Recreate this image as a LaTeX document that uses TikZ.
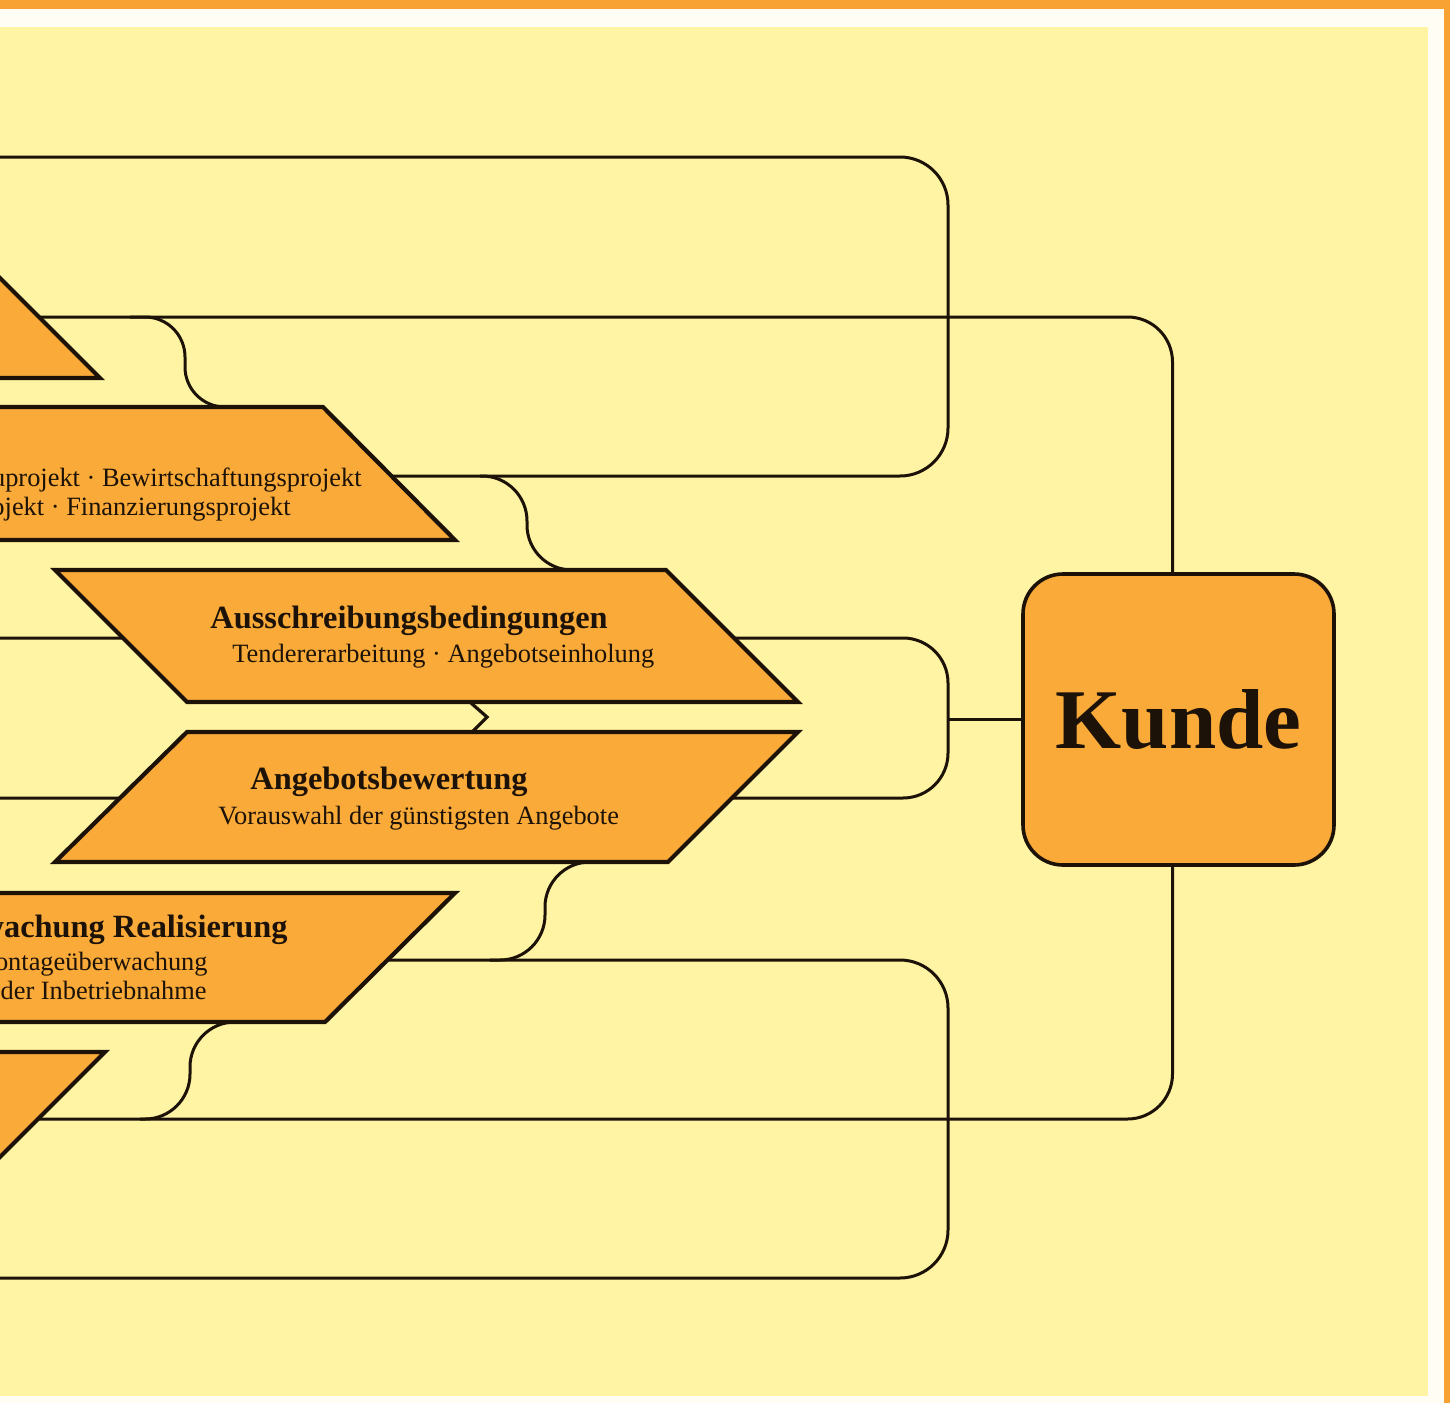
\documentclass[tikz,border=0pt]{standalone}
\usepackage{fontspec}
\setmainfont{Liberation Serif}
\definecolor{bgyellow}{HTML}{FFF4A3}
\definecolor{shapeorange}{HTML}{F9AA38}
\definecolor{barorange}{HTML}{F7A233}
\definecolor{paperwhite}{HTML}{FFFDF4}
\definecolor{inkc}{HTML}{1C1208}
\tikzset{
  conn/.style={line width=1.5pt, draw=inkc, rounded corners=22.5pt},
  phase/.style={draw=inkc, line width=2.1pt, fill=shapeorange, line join=miter},
  titletext/.style={font=\fontsize{16.2}{18}\selectfont\bfseries, inner sep=0pt, text=inkc},
  subtext/.style={font=\fontsize{13.2}{15}\selectfont, inner sep=0pt, text=inkc},
  kundebox/.style={draw=inkc, line width=1.8pt, fill=shapeorange, rounded corners=20pt,
    minimum width=155.5pt, minimum height=145.5pt, inner sep=0pt,
    font=\fontsize{42.5}{44}\selectfont\bfseries, text=inkc}
}
\begin{document}
\begin{tikzpicture}[x=0.5pt,y=-0.5pt]
\useasboundingbox (0,0) rectangle (1450,1403);
\fill[paperwhite] (0,0) rectangle (1450,1403);
\fill[barorange] (0,0) rectangle (1450,9);
\fill[barorange] (1444,0) rectangle (1450,1403);
\fill[bgyellow] (0,27) rectangle (1428,1396);
\begin{scope}
\clip (0,27) rectangle (1428,1396);
% customer box
\node[kundebox] (kunde) at (1178.5,719.5) {Kunde};
% named connector ends
\coordinate (topL) at (0,317);
\coordinate (botL) at (0,1119);
\coordinate (jL) at (948,718);
% connectors
\draw[conn] ([xshift=-3pt]kunde.north) |- (topL);
\draw[conn] ([xshift=-3pt]kunde.south) |- (botL);
\draw[line width=1.5pt, draw=inkc] (kunde.west) -- (jL |- kunde.west);
\draw[conn, rounded corners=24pt] (0,157) -- (948,157) -- (948,476) -- (380,476);
\draw[conn] (0,638) -- (948,638) -- (948,798) -- (0,798);
\draw[conn, rounded corners=24pt] (380,960) -- (948,960) -- (948,1278) -- (0,1278);
\draw[conn, rounded corners=20pt] (130,317) -- (185,317) -- (185,407) -- (240,407);
\draw[conn] (480,476) -- (527,476) -- (527,570) -- (580,570);
\draw[conn] (600,862) -- (545,862) -- (545,960) -- (490,960);
\draw[conn] (240,1022) -- (190,1022) -- (190,1119) -- (140,1119);
% phase shapes
\draw[phase] (-200,246) -- (-32,246) -- (100,378) -- (-200,378) -- cycle;
\draw[phase] (-200,407) -- (323,407) -- (455,540) -- (-200,540) -- cycle;
\draw[phase] (55,570) -- (666,570) -- (798,702) -- (187,702) -- cycle;
\draw[phase] (187,732) -- (798,732) -- (668,862) -- (55,862) -- cycle;
\draw[phase] (-200,893) -- (455,893) -- (325,1022) -- (-200,1022) -- cycle;
\draw[phase] (-200,1052) -- (105,1052) -- (-27,1184) -- (-200,1184) -- cycle;
% chevron link
\draw[line width=1.6pt, draw=inkc, line join=miter] (471,703) -- (487,717) -- (473,731);
% texts
\node[subtext, anchor=base east] (b1) at (362,486) {uprojekt · Bewirtschaftungsprojekt};
\node[subtext, anchor=base east] (b2) at (291,515) {ojekt · Finanzierungsprojekt};
\node[titletext, anchor=base west] (c1) at (210,628) {Ausschreibungsbedingungen};
\node[subtext, anchor=base west] (c2) at (232,662) {Tendererarbeitung · Angebotseinholung};
\node[titletext, anchor=base west] (d1) at (250,789) {Angebotsbewertung};
\node[subtext, anchor=base west] (d2) at (218,824) {Vorauswahl der günstigsten Angebote};
\node[titletext, anchor=base east] (e1) at (288,937) {wachung Realisierung};
\node[subtext, anchor=base east] (e2) at (208,970) {ontageüberwachung};
\node[subtext, anchor=base east] (e3) at (207,999) {der Inbetriebnahme};
\end{scope}
\end{tikzpicture}
\end{document}
